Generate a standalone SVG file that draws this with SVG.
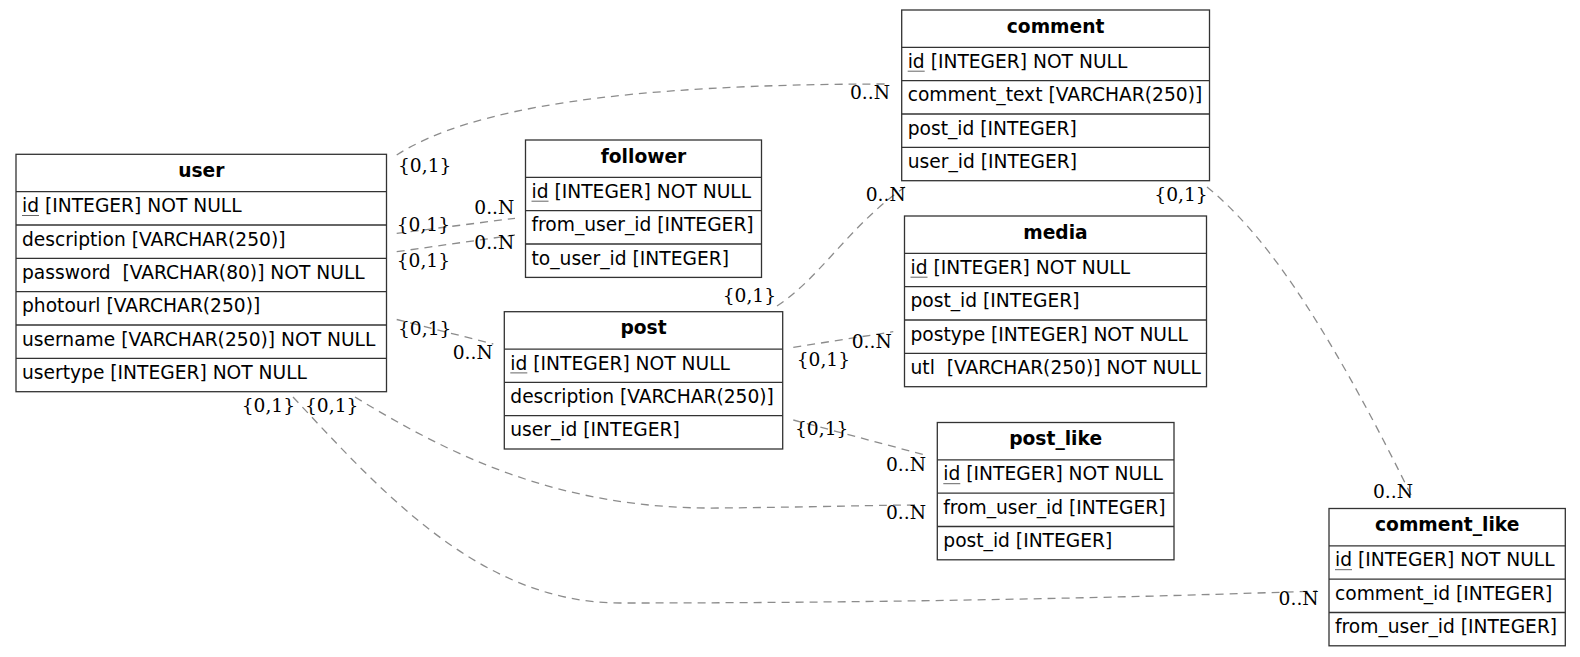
<svg xmlns="http://www.w3.org/2000/svg" width="1580" height="657" viewBox="0 0 1580 657">
<style>
.box{fill:#fff;stroke:#333;stroke-width:1.3}
.sep{stroke:#333;stroke-width:1.3}
.hd{font-family:"DejaVu Sans",sans-serif;font-size:18.67px;font-weight:bold;text-anchor:middle;fill:#000}
.f{font-family:"DejaVu Sans",sans-serif;font-size:18.67px;fill:#000}
.ul{stroke:#666;stroke-width:1}
.e{fill:none;stroke:#8c8c8c;stroke-width:1.3;stroke-dasharray:8,6}
.lb{font-family:"DejaVu Serif","Liberation Serif",serif;font-size:18.67px;fill:#000}
</style>
<rect width="1580" height="657" fill="#fff"/>
<g id="connectors">
<path class="e" d="M396.7,155 C470,108 620,84 890,84"/>
<path class="e" d="M396.7,233.3 L515,218.3"/>
<path class="e" d="M396.7,251.7 L515,235"/>
<path class="e" d="M396.7,319.5 L493.3,344"/>
<path class="e" d="M777,306 C820,278 850,225 905,187"/>
<path class="e" d="M793.3,347.3 L893.3,331.7"/>
<path class="e" d="M793.3,420 L925,455"/>
<path class="e" d="M355,397 C450,455 560,510 720,508 C820,507 880,505 920,505"/>
<path class="e" d="M293,397 C380,490 480,603 620,603 C900,603 1150,597 1317,591"/>
<path class="e" d="M1207,187 C1260,230 1320,310 1412,497"/>
<text class="lb" x="398" y="172">{0,1}</text>
<text class="lb" x="850" y="99.3">0..N</text>
<text class="lb" x="396.7" y="230.7">{0,1}</text>
<text class="lb" x="474.3" y="214">0..N</text>
<text class="lb" x="396.7" y="267">{0,1}</text>
<text class="lb" x="474.3" y="249.3">0..N</text>
<text class="lb" x="398" y="335">{0,1}</text>
<text class="lb" x="452.7" y="359">0..N</text>
<text class="lb" x="722.7" y="302">{0,1}</text>
<text class="lb" x="865.7" y="201">0..N</text>
<text class="lb" x="796.7" y="366">{0,1}</text>
<text class="lb" x="851.7" y="347.5">0..N</text>
<text class="lb" x="795" y="435">{0,1}</text>
<text class="lb" x="886" y="471">0..N</text>
<text class="lb" x="305" y="412">{0,1}</text>
<text class="lb" x="886" y="518.5">0..N</text>
<text class="lb" x="241.7" y="412">{0,1}</text>
<text class="lb" x="1278.6" y="604.5">0..N</text>
<text class="lb" x="1154.3" y="201">{0,1}</text>
<text class="lb" x="1373" y="497.5">0..N</text>
</g>
<g id="user">
<rect class="box" x="16" y="154.3" width="370.5" height="237.4"/>
<line class="sep" x1="16" y1="191.7" x2="386.5" y2="191.7"/>
<line class="sep" x1="16" y1="225" x2="386.5" y2="225"/>
<line class="sep" x1="16" y1="258.3" x2="386.5" y2="258.3"/>
<line class="sep" x1="16" y1="291.7" x2="386.5" y2="291.7"/>
<line class="sep" x1="16" y1="325" x2="386.5" y2="325"/>
<line class="sep" x1="16" y1="358.3" x2="386.5" y2="358.3"/>
<text class="hd" x="201.25" y="176.8">user</text>
<text class="f" x="22" y="212.2">id [INTEGER] NOT NULL</text>
<line class="ul" x1="22" y1="215.5" x2="39" y2="215.5"/>
<text class="f" x="22" y="245.5">description [VARCHAR(250)]</text>
<text class="f" x="22" y="278.8">password&#160; [VARCHAR(80)] NOT NULL</text>
<text class="f" x="22" y="312.2">photourl [VARCHAR(250)]</text>
<text class="f" x="22" y="345.5">username [VARCHAR(250)] NOT NULL</text>
<text class="f" x="22" y="378.8">usertype [INTEGER] NOT NULL</text>
</g>
<g id="follower">
<rect class="box" x="525.5" y="140" width="236" height="137.4"/>
<line class="sep" x1="525.5" y1="177.4" x2="761.5" y2="177.4"/>
<line class="sep" x1="525.5" y1="210.7" x2="761.5" y2="210.7"/>
<line class="sep" x1="525.5" y1="244" x2="761.5" y2="244"/>
<text class="hd" x="643.5" y="162.5">follower</text>
<text class="f" x="531.5" y="197.9">id [INTEGER] NOT NULL</text>
<line class="ul" x1="531.5" y1="201.2" x2="548.5" y2="201.2"/>
<text class="f" x="531.5" y="231.2">from_user_id [INTEGER]</text>
<text class="f" x="531.5" y="264.5">to_user_id [INTEGER]</text>
</g>
<g id="comment">
<rect class="box" x="901.7" y="10" width="307.8" height="170.7"/>
<line class="sep" x1="901.7" y1="47.4" x2="1209.5" y2="47.4"/>
<line class="sep" x1="901.7" y1="80.7" x2="1209.5" y2="80.7"/>
<line class="sep" x1="901.7" y1="114" x2="1209.5" y2="114"/>
<line class="sep" x1="901.7" y1="147.4" x2="1209.5" y2="147.4"/>
<text class="hd" x="1055.6" y="32.5">comment</text>
<text class="f" x="907.7" y="67.9">id [INTEGER] NOT NULL</text>
<line class="ul" x1="907.7" y1="71.2" x2="924.7" y2="71.2"/>
<text class="f" x="907.7" y="101.2">comment_text [VARCHAR(250)]</text>
<text class="f" x="907.7" y="134.5">post_id [INTEGER]</text>
<text class="f" x="907.7" y="167.9">user_id [INTEGER]</text>
</g>
<g id="media">
<rect class="box" x="904.5" y="216" width="302" height="170.7"/>
<line class="sep" x1="904.5" y1="253.4" x2="1206.5" y2="253.4"/>
<line class="sep" x1="904.5" y1="286.7" x2="1206.5" y2="286.7"/>
<line class="sep" x1="904.5" y1="320" x2="1206.5" y2="320"/>
<line class="sep" x1="904.5" y1="353.4" x2="1206.5" y2="353.4"/>
<text class="hd" x="1055.5" y="238.5">media</text>
<text class="f" x="910.5" y="273.9">id [INTEGER] NOT NULL</text>
<line class="ul" x1="910.5" y1="277.2" x2="927.5" y2="277.2"/>
<text class="f" x="910.5" y="307.2">post_id [INTEGER]</text>
<text class="f" x="910.5" y="340.5">postype [INTEGER] NOT NULL</text>
<text class="f" x="910.5" y="373.9">utl&#160; [VARCHAR(250)] NOT NULL</text>
</g>
<g id="post">
<rect class="box" x="504.3" y="311.7" width="278.4" height="137.3"/>
<line class="sep" x1="504.3" y1="349.1" x2="782.7" y2="349.1"/>
<line class="sep" x1="504.3" y1="382.4" x2="782.7" y2="382.4"/>
<line class="sep" x1="504.3" y1="415.7" x2="782.7" y2="415.7"/>
<text class="hd" x="643.5" y="334.2">post</text>
<text class="f" x="510.3" y="369.6">id [INTEGER] NOT NULL</text>
<line class="ul" x1="510.3" y1="372.9" x2="527.3" y2="372.9"/>
<text class="f" x="510.3" y="402.9">description [VARCHAR(250)]</text>
<text class="f" x="510.3" y="436.2">user_id [INTEGER]</text>
</g>
<g id="post_like">
<rect class="box" x="937.3" y="422.5" width="236.7" height="137.3"/>
<line class="sep" x1="937.3" y1="459.9" x2="1174" y2="459.9"/>
<line class="sep" x1="937.3" y1="493.2" x2="1174" y2="493.2"/>
<line class="sep" x1="937.3" y1="526.5" x2="1174" y2="526.5"/>
<text class="hd" x="1055.65" y="445">post_like</text>
<text class="f" x="943.3" y="480.4">id [INTEGER] NOT NULL</text>
<line class="ul" x1="943.3" y1="483.7" x2="960.3" y2="483.7"/>
<text class="f" x="943.3" y="513.7">from_user_id [INTEGER]</text>
<text class="f" x="943.3" y="547">post_id [INTEGER]</text>
</g>
<g id="comment_like">
<rect class="box" x="1329" y="508.5" width="236.3" height="137.3"/>
<line class="sep" x1="1329" y1="545.9" x2="1565.3" y2="545.9"/>
<line class="sep" x1="1329" y1="579.2" x2="1565.3" y2="579.2"/>
<line class="sep" x1="1329" y1="612.5" x2="1565.3" y2="612.5"/>
<text class="hd" x="1447.2" y="531">comment_like</text>
<text class="f" x="1335" y="566.4">id [INTEGER] NOT NULL</text>
<line class="ul" x1="1335" y1="569.7" x2="1352" y2="569.7"/>
<text class="f" x="1335" y="599.7">comment_id [INTEGER]</text>
<text class="f" x="1335" y="633">from_user_id [INTEGER]</text>
</g>
</svg>
